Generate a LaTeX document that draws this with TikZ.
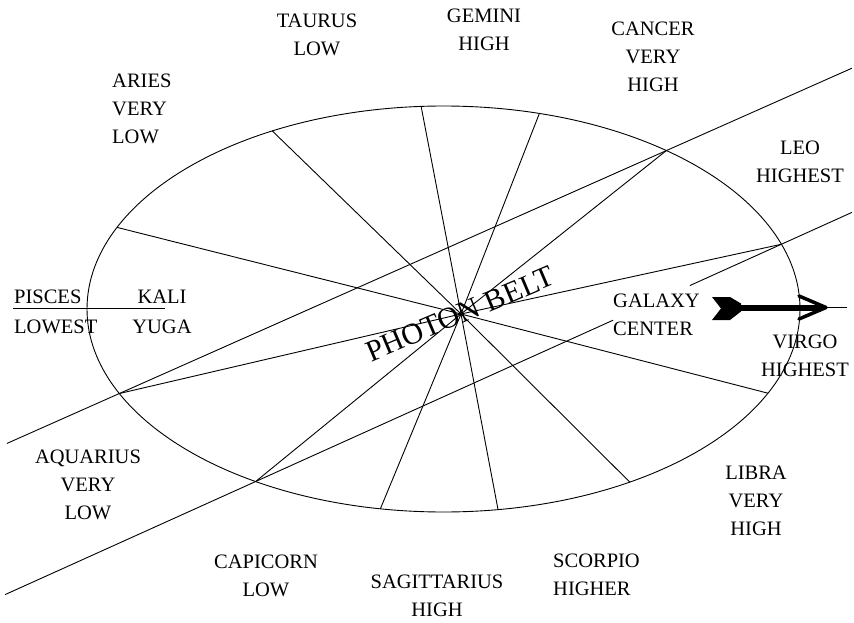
\documentclass[tikz,border=0pt]{standalone}
\usepackage{fontspec}
\setmainfont{Liberation Serif}
\usetikzlibrary{calc}
\begin{document}
\begin{tikzpicture}[x=1pt,y=-1pt,
  thinline/.style={line width=0.9pt},
  lbl/.style={font=\fontsize{20.5}{28}\selectfont, inner sep=0pt, align=center, anchor=north},
  lbll/.style={lbl, align=left, anchor=north west}]
\useasboundingbox (0,0) rectangle (854,623);
% ellipse
\draw[thinline] (443.5,309) ellipse [x radius=356.5, y radius=203];
% centre of spokes
\coordinate (O) at (461,314);
\foreach \n/\t in {ar/156.3, ta/118.7, ge/93.6, ca/74.4, cb/51.3, le/18.6,
                   vi/-24.5, li/-58.5, sc/-81.2, sa/-100.2, cp/-121.8, aq/-155.4}{
  \coordinate (\n) at ({443.5+356.5*cos(\t)},{309-203*sin(\t)});
  \draw[thinline] (O) -- (\n);
}
% photon belt lines
\draw[thinline] ($(aq)!-0.2055!(cb)$) -- ($(aq)!1.339!(cb)$);
\draw[thinline] ($(cp)!-0.4766!(le)$) -- ($(cp)!0.680!(le)$);
\draw[thinline] ($(cp)!0.826!(le)$) -- ($(cp)!1.1343!(le)$);
% Pisces line
\coordinate (pl) at (13,308);
\coordinate (pr) at (165,308);
\draw[thinline] (pl) -- (pr);
% labels
\node[lbl] (taurus) at (317,14) {TAURUS\\LOW};
\node[lbl] (gemini) at (484,9) {GEMINI\\HIGH};
\node[lbl] (cancer) at (653,22) {CANCER\\VERY\\HIGH};
\node[lbll] (aries) at (112,74) {ARIES\\VERY\\LOW};
\node[lbl] (leo) at (800,141) {LEO\\HIGHEST};
\node[lbll] (pisces) at (14,290) {PISCES\\[2pt]LOWEST};
\node[lbl] (kali) at (162,290) {KALI\\[2pt]YUGA};
\node[lbll] (galaxy) at (613,294) {GALAXY\\CENTER};
\node[lbl] (virgo) at (805,335) {VIRGO\\HIGHEST};
\node[lbl] (libra) at (756,466) {LIBRA\\VERY\\HIGH};
\node[lbl] (aquarius) at (88,450) {AQUARIUS\\VERY\\LOW};
\node[lbl] (capricorn) at (266,555) {CAPICORN\\LOW};
\node[lbl] (sagittarius) at (437,575) {SAGITTARIUS\\HIGH};
\node[lbll] (scorpio) at (553,554) {SCORPIO\\HIGHER};
\node[font=\fontsize{30}{36}\selectfont, rotate=23, inner sep=0pt] (belt) at (460,314) {PHOTON BELT};
% arrow
\fill (712,297) -- (730,297) -- (741,303.5) -- (741,311.5) -- (730,320) -- (712,320) -- (721,308.5) -- cycle;
\draw[line width=6pt] (740,307.5) -- (822,307.5);
\draw[line width=3.5pt, line join=round, line cap=round] (799,296) -- (826,307.5) -- (799,319);
\draw[thinline] (826,307.5) -- (847,307.5);
\end{tikzpicture}
\end{document}
